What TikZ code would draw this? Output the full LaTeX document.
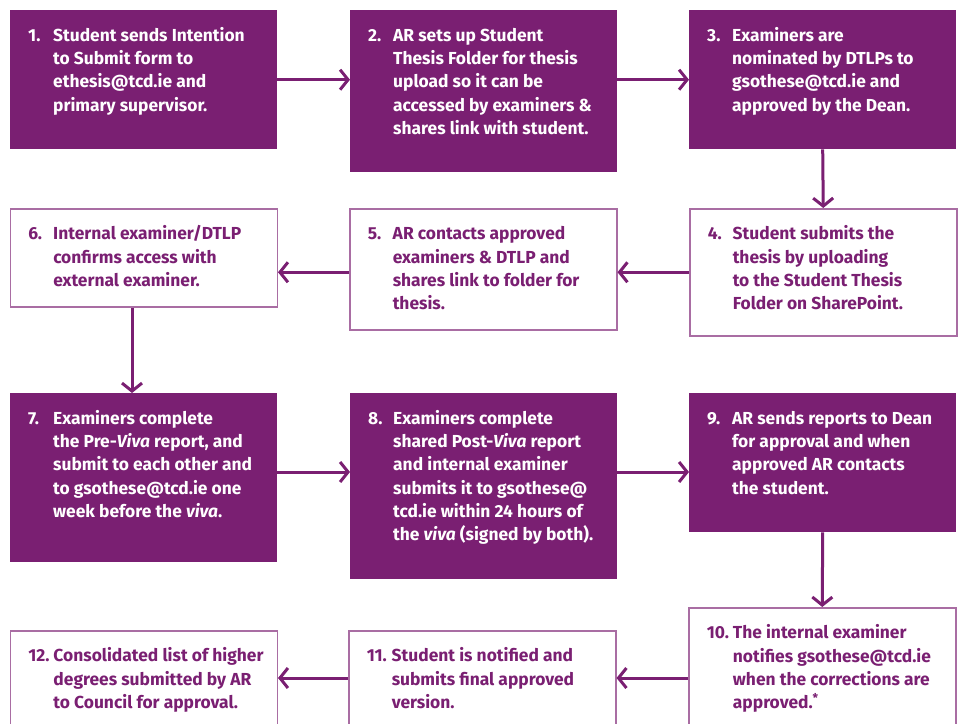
\documentclass[tikz,border=0pt]{standalone}
\usepackage{fontspec}
\setmainfont{Fira Sans}
\usetikzlibrary{arrows.meta}

\definecolor{tcdpurple}{RGB}{122,31,114}
\colorlet{tcdline}{tcdpurple!65}

\newlength{\numwd}
\newcommand{\stepfont}{\fontsize{17.4bp}{23.3bp}\selectfont\bfseries}
% box text: height, number, lines
\newcommand{\stepbody}[3]{\hspace*{18bp}\parbox[c][#1][t]{249bp}{%
    \settowidth{\numwd}{#2}\addtolength{\numwd}{4bp}%
    \ifdim\numwd<25bp \setlength{\numwd}{25bp}\fi
    \hangindent=\numwd\hangafter=1\noindent
    \rule{0pt}{31bp}\makebox[\numwd][l]{#2}#3}}

\tikzset{
  stepfull/.style={anchor=north west, inner sep=0pt, fill=tcdpurple, text=white, font=\stepfont},
  stepopen/.style={anchor=north west, inner sep=0pt, draw=tcdline, line width=1.5bp, fill=white, text=tcdpurple, font=\stepfont},
  flow/.style={draw=tcdpurple, line width=3bp, -{Straight Barb[length=8bp,width=20bp,line width=3bp]}}
}

\begin{document}
\begin{tikzpicture}[x=1bp, y=-1bp]
		%%%%% START %%%%%
		\clip (0,0) rectangle (959,724);
		
		\node[stepfull] (s1) at (10,10) {\stepbody{139bp}{1.}{Student sends Intention\\to Submit form to\\ethesis@tcd.ie and\\primary supervisor.}};
		\node[stepfull] (s2) at (350,10) {\stepbody{162bp}{2.}{AR sets up Student\\Thesis Folder for thesis\\upload so it can be\\accessed by examiners \&\\shares link with student.}};
		\node[stepfull] (s3) at (689,10) {\stepbody{139bp}{3.}{Examiners are\\nominated by DTLPs to\\gsothese@tcd.ie and\\approved by the Dean.}};
		
		\node[stepopen] (s4) at (689,208) {\stepbody{127bp}{4.}{Student submits the\\thesis by uploading\\to the Student Thesis\\Folder on SharePoint.}};
		\node[stepopen] (s5) at (349,208) {\stepbody{121bp}{5.}{AR contacts approved\\examiners \& DTLP and\\shares link to folder for\\thesis.}};
		\node[stepopen] (s6) at (9.5,208) {\stepbody{98bp}{6.}{Internal examiner/DTLP\\confirms access with\\external examiner.}};
		
		\node[stepfull] (s7) at (10,393) {\stepbody{169bp}{7.}{Examiners complete\\the Pre-\textit{Viva} report, and\\submit to each other and\\to gsothese@tcd.ie one\\week before the \textit{viva}.}};
		\node[stepfull] (s8) at (350,393) {\stepbody{186bp}{8.}{Examiners complete\\shared Post-\textit{Viva} report\\and internal examiner\\submits it to gsothese@\\tcd.ie within 24 hours of\\the \textit{viva} (signed by both).}};
		\node[stepfull] (s9) at (689,393) {\stepbody{139bp}{9.}{AR sends reports to Dean\\for approval and when\\approved AR contacts\\the student.}};
		
		\node[stepopen] (s10) at (688,607) {\stepbody{140bp}{10.}{The internal examiner\\notifies gsothese@tcd.ie\\when the corrections are\\approved.\textsuperscript{*}}};
		\node[stepopen] (s11) at (348,630) {\stepbody{140bp}{11.}{Student is notified and\\submits final approved\\version.}};
		\node[stepopen] (s12) at (9.5,630) {\stepbody{140bp}{12.}{Consolidated list of higher\\degrees submitted by AR\\to Council for approval.}};
		
		% arrows
		\coordinate (r3) at (0,472);
		\coordinate (r4) at (0,678);
		\coordinate (c6) at (132,0);
		\draw[flow] (s1.east) -- (s1.east -| s2.west);
		\draw[flow] (s2.east |- s1.east) -- (s3.west |- s1.east);
		\draw[flow] (s3.south) -- (s4.north);
		\draw[flow] (s4.west) -- (s4.west -| s5.east);
		\draw[flow] (s5.west |- s4.west) -- (s6.east |- s4.west);
		\draw[flow] (s6.south -| c6) -- (s7.north -| c6);
		\draw[flow] (s7.east |- r3) -- (s8.west |- r3);
		\draw[flow] (s8.east |- r3) -- (s9.west |- r3);
		\draw[flow] (s9.south) -- (s10.north);
		\draw[flow] (s10.west |- r4) -- (s11.east |- r4);
		\draw[flow] (s11.west |- r4) -- (s12.east |- r4);
		%%%%% END %%%%%
\end{tikzpicture}
\end{document}
